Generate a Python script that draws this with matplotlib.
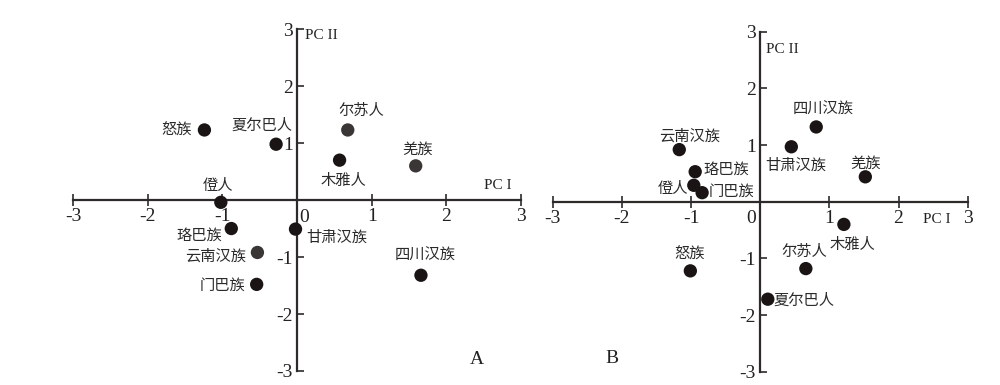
import matplotlib
matplotlib.use("Agg")
import matplotlib.pyplot as plt

# ---- data ----
names_a = ["怒族", "夏尔巴人", "尔苏人", "木雅人", "羌族", "僜人",
           "珞巴族", "甘肃汉族", "云南汉族", "门巴族", "四川汉族"]
pc1_a = [-1.24, -0.28, 0.68, 0.57, 1.59, -1.02, -0.88, -0.02, -0.53, -0.54, 1.66]
pc2_a = [1.23, 0.98, 1.23, 0.70, 0.60, -0.04, -0.50, -0.51, -0.92, -1.48, -1.32]
gray_a = ["尔苏人", "羌族", "云南汉族"]

names_b = ["云南汉族", "珞巴族", "僜人", "门巴族", "甘肃汉族", "四川汉族",
           "羌族", "木雅人", "尔苏人", "怒族", "夏尔巴人"]
pc1_b = [-1.17, -0.94, -0.96, -0.84, 0.45, 0.81, 1.52, 1.21, 0.66, -1.01, 0.11]
pc2_b = [0.92, 0.53, 0.29, 0.16, 0.97, 1.32, 0.44, -0.40, -1.18, -1.22, -1.72]

ticks = [-3, -2, -1, 0, 1, 2, 3]
tick_labels = ["-3", "-2", "-1", "0", "1", "2", "3"]

# ---- label offsets (pixels, dx right, dy down) ----
off_a = {"怒族": (-28, 0), "夏尔巴人": (-14, -19), "尔苏人": (14, -20),
         "木雅人": (4, 20), "羌族": (2, -17), "僜人": (-3, -17),
         "珞巴族": (-32, 7), "甘肃汉族": (41, 8), "云南汉族": (-42, 4),
         "门巴族": (-34, 1), "四川汉族": (4, -20)}
off_b = {"云南汉族": (10, -14), "珞巴族": (31, -2), "僜人": (-21, 3),
         "门巴族": (29, -1), "甘肃汉族": (4, 18), "四川汉族": (7, -18),
         "羌族": (0, -14), "木雅人": (9, 20), "尔苏人": (-2, -17),
         "怒族": (-1, -17), "夏尔巴人": (36, 1)}

SERIF = "Liberation Serif"
CJK = ["Noto Sans CJK SC", "DejaVu Sans"]
AX_COLOR = "#2e2a2a"

fig = plt.figure(figsize=(10, 3.85), dpi=100)
ax_a = fig.add_axes([0.073, 0.0364, 0.448, 0.888])
ax_b = fig.add_axes([0.5527, 0.0345, 0.415, 0.883])


def setup(ax, zero_dx):
    ax.set_xlim(-3, 3)
    ax.set_ylim(-3, 3)
    for s in ["top", "right"]:
        ax.spines[s].set_visible(False)
    ax.spines["left"].set_position(("data", 0))
    ax.spines["bottom"].set_position(("data", 0))
    for s in ["left", "bottom"]:
        ax.spines[s].set_color(AX_COLOR)
        ax.spines[s].set_linewidth(1.6)
    ax.set_xticks(ticks)
    ax.set_xticklabels([t if t != "0" else "" for t in tick_labels],
                       fontfamily=SERIF, fontsize=14)
    yt = [t for t in ticks if t != 0]
    ax.set_yticks(yt)
    ax.set_yticklabels([l for t, l in zip(ticks, tick_labels) if t != 0],
                       fontfamily=SERIF, fontsize=14)
    ax.tick_params(axis="x", direction="inout", length=8, width=1.2,
                   color=AX_COLOR, pad=2, labelcolor="#222")
    ax.tick_params(axis="y", direction="in", length=5, width=1.2,
                   color=AX_COLOR, pad=3, labelcolor="#222")
    ax.annotate("0", (0, 0), xytext=(zero_dx, -17 * 0.72),
                textcoords="offset points", ha="center", va="center",
                fontfamily=SERIF, fontsize=14, color="#222")
    ax.patch.set_alpha(0)


def plot_points(ax, names, xs, ys, offs, gray):
    cols = ["#3a3636" if n in gray else "#1a1414" for n in names]
    ax.scatter(xs, ys, s=92, c=cols, zorder=5, edgecolors="none")
    for n, x, y in zip(names, xs, ys):
        dx, dy = offs[n]
        ax.annotate(n, (x, y), xytext=(dx * 0.72, -dy * 0.72),
                    textcoords="offset points", ha="center", va="center",
                    fontfamily=CJK, fontsize=11, color="#2a2a2a")


setup(ax_a, 7 * 0.72)
setup(ax_b, -9 * 0.72)
plot_points(ax_a, names_a, pc1_a, pc2_a, off_a, gray_a)
plot_points(ax_b, names_b, pc1_b, pc2_b, off_b, [])

# axis titles and panel letters
ax_a.text(0.11, 2.88, "PC II", fontfamily=SERIF, fontsize=11, ha="left", va="center", color="#222")
ax_a.text(2.69, 0.26, "PC I", fontfamily=SERIF, fontsize=11, ha="center", va="center", color="#222")
ax_a.text(2.41, -2.8, "A", fontfamily=SERIF, fontsize=14, ha="center", va="center", color="#222")
ax_b.text(0.09, 2.68, "PC II", fontfamily=SERIF, fontsize=11, ha="left", va="center", color="#222")
ax_b.text(2.56, -0.32, "PC I", fontfamily=SERIF, fontsize=11, ha="center", va="center", color="#222")
ax_b.text(-2.14, -2.77, "B", fontfamily=SERIF, fontsize=14, ha="center", va="center", color="#222")

fig.savefig("out.png", dpi=100, facecolor="white")
